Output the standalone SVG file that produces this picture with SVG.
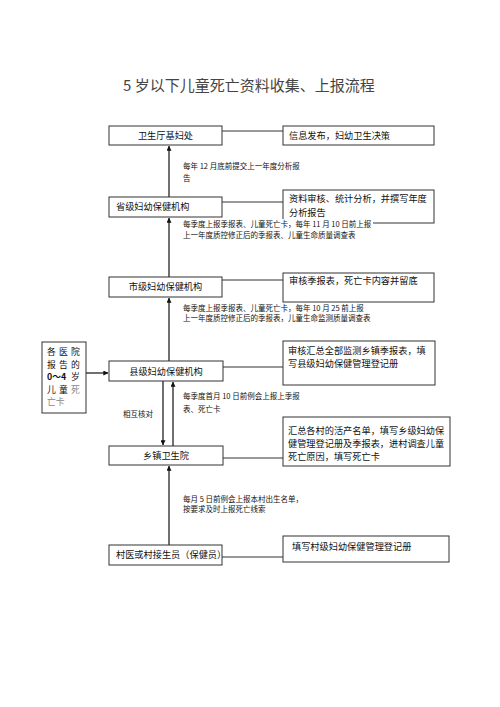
<svg xmlns="http://www.w3.org/2000/svg" width="500" height="707" viewBox="0 0 500 707">
<defs>
<marker id="ah" viewBox="0 0 8 8" refX="7.5" refY="4" markerWidth="5" markerHeight="5" orient="auto" markerUnits="userSpaceOnUse">
<path d="M0,0 L8,4 L0,8 z" fill="#111"/>
</marker>
<style>
.box{fill:#fff;stroke:#333;stroke-width:1}
.t{font-family:"Noto Sans CJK SC","Noto Sans",sans-serif;font-size:9.2px;fill:#111}
.c{text-anchor:middle}
.a{font-family:"Noto Sans CJK SC","Noto Sans",sans-serif;font-size:7.5px;fill:#111}
.ln{stroke:#333;stroke-width:1;fill:none}
.ar{stroke:#111;stroke-width:1.2;fill:none;marker-end:url(#ah)}
.title{font-family:"Noto Sans CJK SC","Noto Sans",sans-serif;font-size:15px;fill:#444}
</style>
</defs>
<rect width="500" height="707" fill="#fff"/>
<text class="title" x="123" y="91">5 岁以下儿童死亡资料收集、上报流程</text>

<g id="connectors">
<line class="ln" x1="222" y1="131" x2="283" y2="131"/>
<line class="ln" x1="222" y1="202" x2="283" y2="202"/>
<line class="ln" x1="222" y1="280" x2="283" y2="280"/>
<line class="ln" x1="223" y1="367" x2="283" y2="367"/>
<line class="ln" x1="223" y1="458" x2="283" y2="458"/>
<line class="ln" x1="222" y1="557" x2="283" y2="557"/>
<line class="ar" x1="169" y1="197" x2="169" y2="146"/>
<line class="ar" x1="169" y1="277" x2="169" y2="218"/>
<line class="ar" x1="169" y1="361" x2="169" y2="298"/>
<line class="ar" x1="86" y1="373" x2="108" y2="373"/>
<line class="ar" x1="163" y1="381" x2="163" y2="445"/>
<line class="ar" x1="173" y1="446" x2="173" y2="382"/>
<line class="ar" x1="169" y1="545" x2="169" y2="466"/>
</g>

<g id="n1"><rect class="box" x="109" y="126" width="113" height="19"/><text class="t c" x="165.5" y="139">卫生厅基妇处</text></g>
<g id="n1r"><rect class="box" x="283" y="126" width="151" height="19"/><text class="t" x="289" y="139">信息发布，妇幼卫生决策</text></g>
<g id="l1"><text class="a" x="183" y="169">每年 12 月底前提交上一年度分析报</text><text class="a" x="183" y="181">告</text></g>

<g id="n2"><rect class="box" x="109" y="197" width="113" height="20"/><text class="t" x="116" y="210">省级妇幼保健机构</text></g>
<g id="n2r"><rect class="box" x="283" y="190" width="151" height="33"/><text class="t" x="289" y="202">资料审核、统计分析，并撰写年度</text><text class="t" x="289" y="215.5">分析报告</text></g>
<g id="l2"><rect x="181" y="219" width="192" height="21" fill="#fff"/><text class="a" x="183" y="227">每季度上报季报表、儿童死亡卡，每年 11 月 10 日前上报</text><text class="a" x="183" y="238">上一年度质控修正后的季报表、儿童生命质量调查表</text></g>

<g id="n3"><rect class="box" x="109" y="277" width="113" height="20"/><text class="t c" x="165.5" y="290">市级妇幼保健机构</text></g>
<g id="n3r"><rect class="box" x="283" y="273" width="151" height="29"/><text class="t" x="289" y="284">审核季报表，死亡卡内容并留底</text></g>
<g id="l3"><text class="a" x="183" y="311">每季度上报季报表、儿童死亡卡，每年 10 月 25 前上报</text><text class="a" x="183" y="321">上一年度质控修正后的季报表，儿童生命监测质量调查表</text></g>

<g id="n0"><rect class="box" x="42" y="342" width="44" height="71"/>
<text class="t" style="font-size:8.8px"><tspan x="47" y="355">各</tspan><tspan x="59" y="355">医</tspan><tspan x="71" y="355">院</tspan>
<tspan x="47" y="367.5">报</tspan><tspan x="59" y="367.5">告</tspan><tspan x="71" y="367.5">的</tspan>
<tspan x="47" y="380" font-weight="bold">0～4</tspan><tspan x="71" y="380">岁</tspan>
<tspan x="47" y="392.5">儿</tspan><tspan x="59" y="392.5">童</tspan><tspan x="71" y="392.5" fill="#888">死</tspan>
<tspan x="47" y="405" fill="#888">亡卡</tspan></text></g>

<g id="n4"><rect class="box" x="109" y="361" width="114" height="20"/><text class="t c" x="166" y="375">县级妇幼保健机构</text></g>
<g id="n4r"><rect class="box" x="283" y="341" width="152" height="44"/><text class="t" x="288" y="354">审核汇总全部监测乡镇季报表，填</text><text class="t" x="288" y="367">写县级妇幼保健管理登记册</text></g>
<g id="l4"><text class="a" x="123" y="417">相互核对</text><text class="a" x="183" y="399">每季度首月 10 日前例会上报上季报</text><text class="a" x="183" y="412">表、死亡卡</text></g>

<g id="n5"><rect class="box" x="109" y="446" width="114" height="19"/><text class="t c" x="166" y="459">乡镇卫生院</text></g>
<g id="n5r"><rect class="box" x="283" y="417" width="167" height="49"/><text class="t" x="288" y="434">汇总各村的活产名单，填写乡级妇幼保</text><text class="t" x="288" y="447">健管理登记册及季报表，进村调查儿童</text><text class="t" x="288" y="460">死亡原因，填写死亡卡</text></g>
<g id="l5"><text class="a" x="183" y="502">每月 5 日前例会上报本村出生名单，</text><text class="a" x="183" y="512">按要求及时上报死亡线索</text></g>

<g id="n6"><rect class="box" x="109" y="545" width="113" height="20"/><text class="t" x="116" y="558">村医或村接生员（保健员）</text></g>
<g id="n6r"><rect class="box" x="283" y="536" width="166" height="26"/><text class="t" x="292" y="550">填写村级妇幼保健管理登记册</text></g>
</svg>
